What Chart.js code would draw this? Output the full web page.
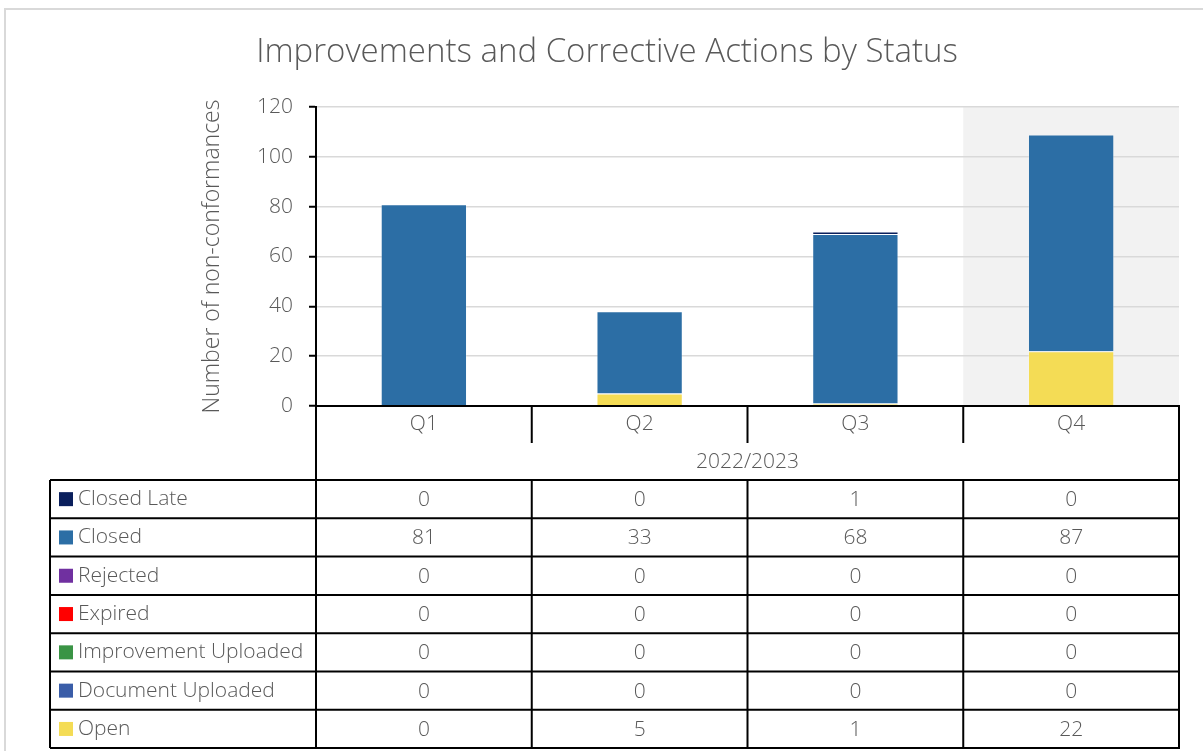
<!DOCTYPE html>
<html>
<head>
<meta charset="utf-8">
<script src="https://cdn.jsdelivr.net/npm/chart.js@4"></script>
<style>
  html, body { margin: 0; padding: 0; background: #fff; }
  canvas { display: block; }
</style>
</head>
<body>
<canvas id="chart" width="1203" height="751"></canvas>
<script>
// data
const categories = ['Q1', 'Q2', 'Q3', 'Q4'];
const yearLabel = '2022/2023';
const closedLate = [0, 0, 1, 0];
const closed = [81, 33, 68, 87];
const rejected = [0, 0, 0, 0];
const expired = [0, 0, 0, 0];
const improvementUploaded = [0, 0, 0, 0];
const documentUploaded = [0, 0, 0, 0];
const openItems = [0, 5, 1, 22];
const yTicks = [0, 20, 40, 60, 80, 100, 120];
const highlightIndex = 3;

const chartTitle = 'Improvements and Corrective Actions by Status';
const textColor = '#595959';
const fontFamily = '"Open Sans", "DejaVu Sans", sans-serif';

// bottom to top of the stack
const series = [
    { label: 'Open', data: openItems, color: '#F4DC55' },
    { label: 'Document Uploaded', data: documentUploaded, color: '#3A5DA8' },
    { label: 'Improvement Uploaded', data: improvementUploaded, color: '#3A9445' },
    { label: 'Expired', data: expired, color: '#FF0000' },
    { label: 'Rejected', data: rejected, color: '#7030A0' },
    { label: 'Closed', data: closed, color: '#2C6EA5' },
    { label: 'Closed Late', data: closedLate, color: '#0A1F5C' }
];

// background, frame, title and shaded quarter
const backdrop = {
    id: 'backdrop',
    beforeDraw(chart) {
        const { ctx, chartArea, scales } = chart;
        ctx.save();
        ctx.fillStyle = '#fff';
        ctx.fillRect(0, 0, chart.width, chart.height);
        ctx.strokeStyle = '#d9d9d9';
        ctx.lineWidth = 2;
        ctx.strokeRect(5, 9, chart.width + 10, chart.height + 10);

        ctx.fillStyle = textColor;
        ctx.font = '300 33px ' + fontFamily;
        ctx.textAlign = 'center';
        ctx.textBaseline = 'middle';
        ctx.fillText(chartTitle, 607, 53);

        const x = scales.x;
        const half = (x.getPixelForValue(1) - x.getPixelForValue(0)) / 2;
        const c = x.getPixelForValue(highlightIndex);
        ctx.fillStyle = '#f2f2f2';
        ctx.fillRect(c - half, chartArea.top, half * 2, chartArea.bottom - chartArea.top);
        ctx.restore();
    }
};

// data table under the plot
const dataTable = {
    id: 'dataTable',
    afterDraw(chart) {
        const { ctx, chartArea, scales } = chart;
        const x = scales.x;
        const half = (x.getPixelForValue(1) - x.getPixelForValue(0)) / 2;
        const left = chartArea.left, right = chartArea.right;
        const top = chartArea.bottom;
        const qRowBottom = top + 37;
        const yearBottom = top + 74;
        const rowH = 38.3;
        const tableLeft = 50;
        const rows = series.slice().reverse();
        const tableBottom = yearBottom + rowH * rows.length;

        ctx.save();
        ctx.font = '300 21px ' + fontFamily;
        ctx.fillStyle = textColor;
        ctx.textBaseline = 'middle';
        ctx.textAlign = 'center';

        categories.forEach((q, i) => {
            ctx.fillText(q, x.getPixelForValue(i), (top + qRowBottom) / 2);
        });
        ctx.fillText(yearLabel, (left + right) / 2, (qRowBottom + yearBottom) / 2 + 1);

        rows.forEach((s, r) => {
            const cy = yearBottom + rowH * r + rowH / 2;
            s.data.forEach((v, i) => {
                ctx.fillText(String(v), x.getPixelForValue(i), cy + 1);
            });
            ctx.fillStyle = s.color;
            ctx.fillRect(59, cy - 7, 14, 14);
            ctx.fillStyle = textColor;
            ctx.textAlign = 'left';
            ctx.fillText(s.label, 78, cy);
            ctx.textAlign = 'center';
        });

        ctx.strokeStyle = '#000';
        ctx.lineWidth = 2;
        ctx.beginPath();
        // horizontal lines
        ctx.moveTo(left - 1, top); ctx.lineTo(right + 1, top);
        for (let r = 0; r <= rows.length; r++) {
            const yy = yearBottom + rowH * r;
            ctx.moveTo(tableLeft, yy); ctx.lineTo(right + 1, yy);
        }
        // outer verticals
        ctx.moveTo(left, top); ctx.lineTo(left, tableBottom);
        ctx.moveTo(right, top); ctx.lineTo(right, tableBottom);
        ctx.moveTo(tableLeft, yearBottom); ctx.lineTo(tableLeft, tableBottom);
        // category dividers
        for (let i = 1; i < categories.length; i++) {
            const bx = x.getPixelForValue(i) - half;
            ctx.moveTo(bx, top); ctx.lineTo(bx, qRowBottom);
            ctx.moveTo(bx, yearBottom); ctx.lineTo(bx, tableBottom);
        }
        ctx.stroke();
        ctx.restore();
    }
};

new Chart(document.getElementById('chart'), {
    type: 'bar',
    data: {
        labels: categories,
        datasets: series.map(s => ({
            label: s.label,
            data: s.data,
            backgroundColor: s.color,
            borderColor: 'rgba(255,255,255,0.25)',
            borderWidth: 1,
            barPercentage: 0.4,
            categoryPercentage: 1
        }))
    },
    options: {
        responsive: false,
        animation: false,
        layout: { padding: { left: 199, right: 24, top: 107, bottom: 345 } },
        plugins: {
            legend: { display: false },
            tooltip: { enabled: false },
            title: { display: false }
        },
        scales: {
            x: {
                display: false,
                stacked: true
            },
            y: {
                stacked: true,
                min: 0,
                max: 120,
                afterFit(scale) { scale.width = 117; },
                afterBuildTicks(scale) { scale.ticks = yTicks.map(v => ({ value: v })); },
                border: { color: '#000', width: 2 },
                grid: { color: '#d9d9d9', lineWidth: 1.5, tickLength: 7, tickColor: '#000', tickWidth: 2 },
                ticks: { color: textColor, padding: 16, font: { family: fontFamily, size: 21, weight: '300' } },
                title: {
                    display: true,
                    text: 'Number of non-conformances',
                    color: textColor,
                    padding: 0,
                    font: { family: fontFamily, size: 23, weight: '300' }
                }
            }
        }
    },
    plugins: [backdrop, dataTable]
});
</script>
</body>
</html>
